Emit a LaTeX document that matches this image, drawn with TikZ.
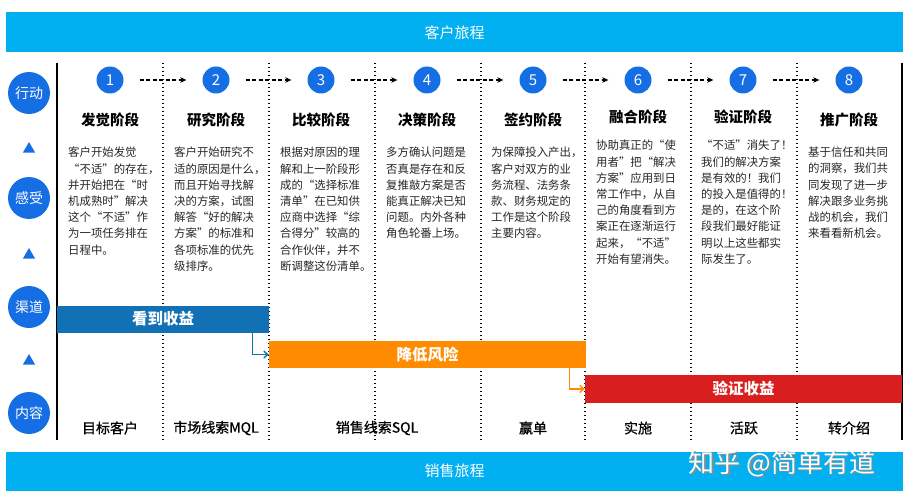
\documentclass[tikz,border=0pt]{standalone}
\usepackage{fontspec}
\setmainfont{Noto Sans CJK SC}
\newfontfamily\phasefont[FakeBold=0.6]{Noto Sans CJK SC}
\usetikzlibrary{arrows.meta}
\usetikzlibrary{positioning}
\usetikzlibrary{shapes.geometric}
\definecolor{mcyan}{RGB}{0,176,240}
\definecolor{mblue}{RGB}{22,110,228}
\definecolor{msteel}{RGB}{18,112,180}
\definecolor{morange}{RGB}{255,140,0}
\definecolor{mred}{RGB}{216,30,30}
\tikzset{banner/.style = {fill=mcyan, text=white, minimum width=897pt, minimum height=40pt,
                          inner sep=0, font=\fontsize{15}{15}\selectfont}}
\tikzset{sidecircle/.style = {fill=mblue, circle, text=white, minimum size=42pt, inner sep=0,
                              font=\fontsize{14}{14}\selectfont}}
\tikzset{sidemark/.style = {fill=mblue, regular polygon, regular polygon sides=3,
                            minimum size=14pt, inner sep=0}}
\tikzset{stepnum/.style = {fill=mblue, circle, text=white, minimum size=27pt, inner sep=0,
                           font=\fontsize{15}{15}\selectfont}}
\tikzset{steparrow/.style = {dash pattern=on 4pt off 2.5pt, line width=1.3pt, shorten <=16pt,
                             shorten >=16pt, -{Stealth[length=6pt, width=5.5pt]}}}
\tikzset{stagetitle/.style = {font=\fontsize{14.5}{15}\selectfont\bfseries, inner sep=0}}
\tikzset{stagetext/.style = {anchor=north west, align=left, inner sep=0, text=black!85,
                             font=\fontsize{11.4}{16.2}\selectfont}}
\tikzset{sepline/.style = {line width=1.3pt, dash pattern=on 1.3pt off 2.7pt}}
\tikzset{bar/.style = {text=white, inner sep=0, minimum height=27pt,
                       font=\fontsize{15.5}{16}\selectfont\bfseries}}
\tikzset{linkarrow/.style = {line width=1.4pt, -{Straight Barb[length=4pt, width=7pt]}}}
\tikzset{phase/.style = {font=\fontsize{14}{14}\selectfont\phasefont, inner sep=0}}

\begin{document}
\begin{tikzpicture}[x=1pt, y=-1pt]
      \useasboundingbox (0,0) rectangle (909,500);

      \node [banner] (journey) at (454.5,32.5) {客户旅程};
      \node [banner, minimum height=39pt] (sales) at (454.5,471) {销售旅程};
      \node [text=black!45, font=\fontsize{26}{26}\selectfont] (wmshadow) at (783.5,465) {知乎 @简单有道};
      \node [text=white, font=\fontsize{26}{26}\selectfont] (wm) at (782,463.5) {知乎 @简单有道};

      \foreach \t/\y [count=\i] in {行动/93, 感受/198, 渠道/307, 内容/413} {
        \node [sidecircle] (side\i) at (29,\y) {\t};
      }
      \foreach \y [count=\i] in {149, 255, 361} {
        \node [sidemark] (mark\i) at (29,\y) {};
      }

      \draw [line width=1.5pt] (57,63) -- (57,440);
      \draw [line width=1.5pt] (902,63) -- (902,440);
      \foreach \x in {163, 269, 375, 481, 585, 691, 797} {
        \draw [sepline] (\x,63) -- (\x,442);
      }

      \foreach \x [count=\i] in {110, 216, 321, 427, 533, 638, 743, 849} {
        \node [stepnum] (n\i) at (\x,80) {\i};
      }
      \foreach \i [evaluate=\i as \j using int(\i+1)] in {1,...,7} {
        \draw [steparrow] (n\i) -- (n\j);
      }

      \foreach \x/\y/\t [count=\i] in {110/120/发觉阶段, 216/120/研究阶段, 321/120/比较阶段, 427/120/决策阶段,
                                       533/120/签约阶段, 638/117/融合阶段, 743/117/验证阶段, 849/120/推广阶段} {
        \node [stagetitle] (t\i) at (\x,\y) {\t};
      }

      \node [stagetext] (d1) at (68,147) {客户开始发觉\\“不适”的存在，\\并开始把在“时\\机成熟时”解决\\这个“不适”作\\为一项任务排在\\日程中。};
      \node [stagetext] (d2) at (174,147) {客户开始研究不\\适的原因是什么，\\而且开始寻找解\\决的方案，试图\\解答“好的解决\\方案”的标准和\\各项标准的优先\\级排序。};
      \node [stagetext] (d3) at (280,147) {根据对原因的理\\解和上一阶段形\\成的“选择标准\\清单”在已知供\\应商中选择“综\\合得分”较高的\\合作伙伴，并不\\断调整这份清单。};
      \node [stagetext] (d4) at (386,147) {多方确认问题是\\否真是存在和反\\复推敲方案是否\\能真正解决已知\\问题。内外各种\\角色轮番上场。};
      \node [stagetext] (d5) at (491,147) {为保障投入产出，\\客户对双方的业\\务流程、法务条\\款、财务规定的\\工作是这个阶段\\主要内容。};
      \node [stagetext] (d6) at (596,140) {协助真正的“使\\用者”把“解决\\方案”应用到日\\常工作中，从自\\己的角度看到方\\案正在逐渐运行\\起来，“不适”\\开始有望消失。};
      \node [stagetext] (d7) at (701,140) {“不适”消失了！\\我们的解决方案\\是有效的！我们\\的投入是值得的！\\是的，在这个阶\\段我们最好能证\\明以上这些都实\\际发生了。};
      \node [stagetext] (d8) at (808,147) {基于信任和共同\\的洞察，我们共\\同发现了进一步\\解决跟多业务挑\\战的机会，我们\\来看看新机会。};

      \node [bar, fill=msteel, minimum width=212pt] (gain) at (163,319) {看到收益};
      \node [bar, fill=morange, minimum width=317pt] (risk) at (427.5,354.5) {降低风险};
      \node [bar, fill=mred, minimum width=317pt, minimum height=28pt] (proof) at (743.5,389) {验证收益};

      \draw [linkarrow, msteel] ([xshift=-17pt]gain.south east) |- (risk.west);
      \draw [linkarrow, morange] ([xshift=-17pt]risk.south east) |- (proof.west);

      \foreach \x/\t [count=\i] in {110/目标客户, 216/市场线索MQL, 377/销售线索SQL, 533/赢单,
                                    638/实施, 744/活跃, 849/转介绍} {
        \node [phase] (p\i) at (\x,428) {\t};
      }
    \end{tikzpicture}
\end{document}
